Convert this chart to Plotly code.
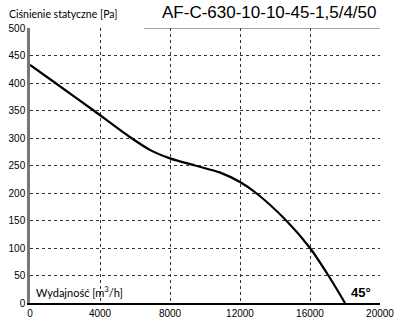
import plotly.graph_objects as go

# Fan characteristic: static pressure vs. airflow
airflow = [0, 1450, 3640, 5790, 6875, 8000, 9440, 10870, 12000, 12920, 14640, 16000, 17050, 18000]
pressure = [433, 400, 350, 300, 278, 263, 250, 237, 220, 200, 150, 100, 50, 0]

x_ticks = [0, 4000, 8000, 12000, 16000, 20000]
y_ticks = [0, 50, 100, 150, 200, 250, 300, 350, 400, 450, 500]

title_text = "AF-C-630-10-10-45-1,5/4/50"
y_title = "Ciśnienie statyczne [Pa]"
x_title = "Wydajność [m<sup>3</sup>/h]"
angle_label = "<b>45°</b>"

fig = go.Figure()
fig.add_trace(go.Scatter(
    x=airflow, y=pressure, mode="lines",
    line=dict(color="black", width=2.2, shape="spline", smoothing=0.8),
    hoverinfo="skip", showlegend=False,
))

grid_style = dict(showgrid=True, gridcolor="#333333", gridwidth=1, griddash="dot",
                  zeroline=False, ticks="", automargin=False,
                  tickfont=dict(family="Liberation Sans, Arial", size=10, color="black"))

fig.update_xaxes(range=[0, 20000], tickvals=x_ticks, ticktext=[str(v) for v in x_ticks],
                 showline=True, linecolor="black", linewidth=2, **grid_style)
fig.update_yaxes(range=[0, 500], tickvals=y_ticks, ticktext=[str(v) for v in y_ticks],
                 showline=True, linecolor="#777777", linewidth=2.5, **grid_style)

# solid top edge segment
fig.add_shape(type="line", xref="x", yref="y", x0=6500, x1=20000, y0=500, y1=500,
              line=dict(color="#555555", width=1))

fig.add_annotation(text=title_text, xref="paper", yref="paper", x=1.0, y=1.0,
                   xanchor="right", yanchor="bottom", xshift=-1, yshift=4, showarrow=False,
                   font=dict(family="Liberation Sans, Arial", size=17, color="black"))
fig.add_annotation(text=y_title, xref="paper", yref="paper", x=0, y=1.0,
                   xanchor="left", yanchor="bottom", xshift=-23, yshift=6, showarrow=False,
                   font=dict(family="Lato, DejaVu Sans", size=10.5, color="black"))
fig.add_annotation(text=x_title, xref="paper", yref="paper", x=0, y=0,
                   xanchor="left", yanchor="bottom", xshift=4, yshift=2, showarrow=False,
                   font=dict(family="Lato, DejaVu Sans", size=11, color="black"))
fig.add_annotation(text=angle_label, xref="x", yref="y", x=18200, y=0,
                   xanchor="left", yanchor="bottom", yshift=1, showarrow=False,
                   font=dict(family="Liberation Sans, Arial", size=13, color="black"))

fig.update_layout(
    width=400, height=325,
    margin=dict(l=30, r=20, t=28, b=22, autoexpand=False),
    paper_bgcolor="white", plot_bgcolor="white",
)

fig.write_html("out.html")
